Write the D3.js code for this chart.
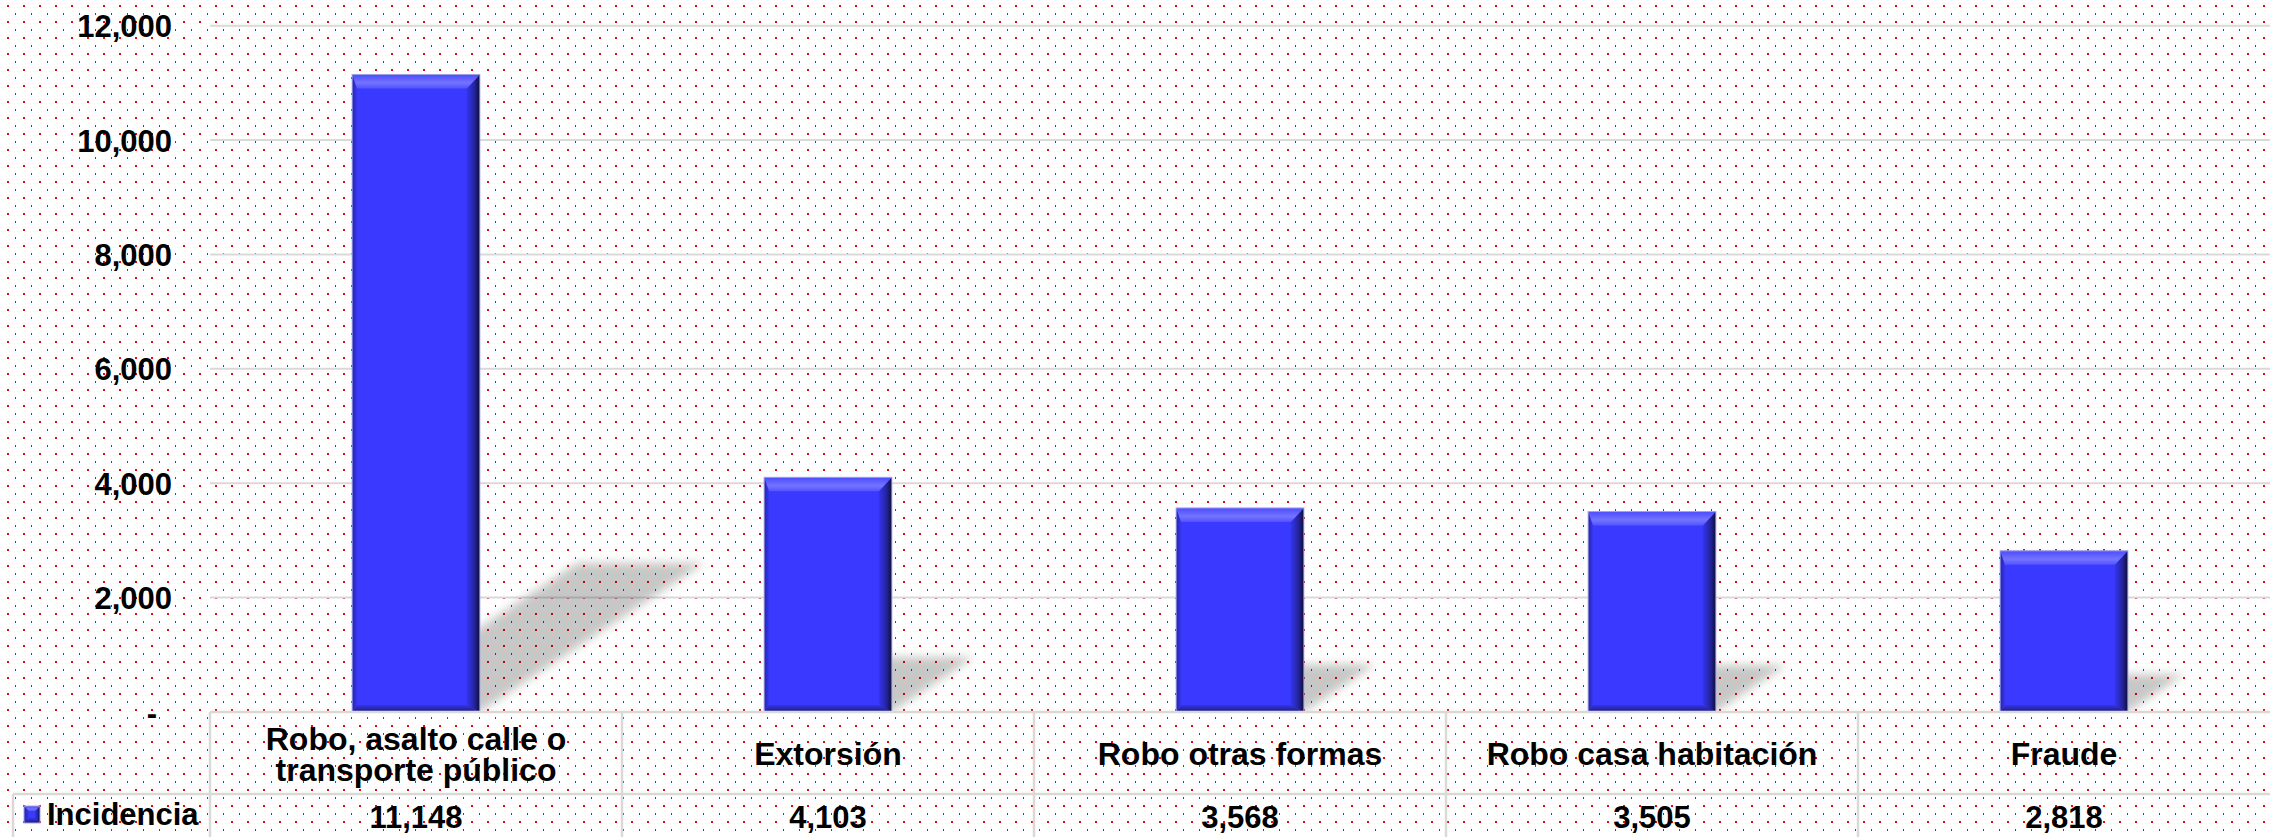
<!DOCTYPE html>
<html>
<head>
<meta charset="utf-8">
<script src="https://cdn.jsdelivr.net/npm/d3@7"></script>
<style>
  html, body { margin: 0; padding: 0; background: #ffffff; }
  svg { display: block; }
  text { font-family: "Liberation Sans", Arial, sans-serif; font-weight: bold; fill: #000; }
</style>
</head>
<body>
<svg id="chart" width="2270" height="837"></svg>
<script>
// ---- data ----
const categories = ["Robo, asalto calle o transporte público", "Extorsión", "Robo otras formas", "Robo casa habitación", "Fraude"];
const categoryLines = [["Robo, asalto calle o", "transporte público"], ["Extorsión"], ["Robo otras formas"], ["Robo casa habitación"], ["Fraude"]];
const values = [11148, 4103, 3568, 3505, 2818];
const valueLabels = ["11,148", "4,103", "3,568", "3,505", "2,818"];
const yTicks = [0, 2000, 4000, 6000, 8000, 10000, 12000];
const seriesName = "Incidencia";

// ---- layout ----
const W = 2270, H = 837;
const plotLeft = 210, plotRight = 2270, plotTop = 25.7, plotBottom = 712;
const rowSplit = 794;
const lineColor = "#d9d9d9";

const svg = d3.select("#chart");
const defs = svg.append("defs");

// dotted background pattern
const pat = defs.append("pattern").attr("id", "dots").attr("patternUnits", "userSpaceOnUse")
  .attr("width", 16).attr("height", 16);
pat.append("rect").attr("width", 16).attr("height", 16).attr("fill", "#ffffff");
pat.append("rect").attr("x", 7).attr("y", 5).attr("width", 2).attr("height", 2).attr("fill", "#ff0000");
pat.append("rect").attr("x", 15).attr("y", 13).attr("width", 2).attr("height", 2).attr("fill", "#ff0000");
svg.append("rect").attr("width", W).attr("height", H).attr("fill", "url(#dots)");

// gradients for bevel
function lin(id, x2, y2, stops) {
  const g = defs.append("linearGradient").attr("id", id)
    .attr("x1", 0).attr("y1", 0).attr("x2", x2).attr("y2", y2);
  stops.forEach(s => g.append("stop").attr("offset", s[0]).attr("stop-color", s[1]));
}
lin("gTop", 0, 1, [[0, "#4b4bff"], [0.6, "#7474ff"], [1, "#5252ff"]]);
lin("gRight", 1, 0, [[0, "#3535ee"], [0.6, "#232399"], [1, "#0e0e38"]]);
lin("gBottom", 0, 1, [[0, "#3434e6"], [1, "#1c1c7c"]]);
lin("gLeft", 1, 0, [[0, "#2424a8"], [1, "#3838f4"]]);

// shadow blur
const f = defs.append("filter").attr("id", "blur").attr("x", "-20%").attr("y", "-20%")
  .attr("width", "140%").attr("height", "140%");
f.append("feGaussianBlur").attr("stdDeviation", 5);
defs.append("clipPath").attr("id", "plotClip").append("rect")
  .attr("x", plotLeft).attr("y", 0).attr("width", plotRight - plotLeft).attr("height", plotBottom);

// ---- scales ----
const x = d3.scaleBand().domain(categories).range([plotLeft, plotRight])
  .paddingInner(0.69).paddingOuter(0.345);
const y = d3.scaleLinear().domain([0, 12000]).range([plotBottom, plotTop]);

// ---- gridlines ----
svg.append("g").selectAll("line").data(yTicks.filter(d => d > 0)).join("line")
  .attr("x1", plotLeft).attr("x2", plotRight)
  .attr("y1", d => y(d)).attr("y2", d => y(d))
  .attr("stroke", lineColor).attr("stroke-width", 2);

// ---- y axis labels ----
const yAxis = d3.axisLeft(y).tickValues(yTicks)
  .tickFormat(d => d === 0 ? "-" : d3.format(",")(d)).tickSize(0).tickPadding(0);
const yg = svg.append("g").attr("transform", "translate(172,0)").call(yAxis);
yg.select(".domain").remove();
yg.selectAll("text").attr("font-size", 31).attr("font-family", null)
  .attr("dy", null).attr("y", 11)
  .attr("x", d => d === 0 ? -15 : 0);

// ---- shadows ----
const sh = svg.append("g").attr("clip-path", "url(#plotClip)");
sh.selectAll("polygon").data(values).join("polygon")
  .attr("points", (v, i) => {
    const x0 = x(categories[i]), x1 = x0 + x.bandwidth();
    const h = y(0) - y(v), dx = 0.353 * h, dy = 0.234 * h, b = y(0);
    return [[x0, b], [x1, b], [x1 + dx, b - dy], [x0 + dx, b - dy]].map(p => p.join(",")).join(" ");
  })
  .attr("fill", "#000").attr("fill-opacity", 0.22).attr("filter", "url(#blur)");

// ---- bevelled box ----
function bevelBox(g, x0, x1, yt, yb, t, r, bo, l) {
  g.append("rect").attr("x", x0).attr("y", yt).attr("width", x1 - x0).attr("height", yb - yt).attr("fill", "#3939ff");
  const poly = (pts, fill) => g.append("polygon").attr("points", pts.map(p => p.join(",")).join(" ")).attr("fill", fill);
  poly([[x0, yt], [x0 + l, yt + t], [x0 + l, yb - bo], [x0, yb]], "url(#gLeft)");
  poly([[x0, yb], [x1, yb], [x1 - r, yb - bo], [x0 + l, yb - bo]], "url(#gBottom)");
  poly([[x1, yt], [x1, yb], [x1 - r, yb - bo], [x1 - r, yt + t]], "url(#gRight)");
  poly([[x0, yt], [x1, yt], [x1 - r, yt + t], [x0 + l, yt + t]], "url(#gTop)");
  g.append("rect").attr("x", x0).attr("y", yt).attr("width", x1 - x0).attr("height", yb - yt)
    .attr("fill", "none").attr("stroke", "#a4a4e4").attr("stroke-width", 1);
}

// ---- bars ----
const bars = svg.append("g");
values.forEach((v, i) => {
  const x0 = x(categories[i]), x1 = x0 + x.bandwidth();
  bevelBox(bars.append("g"), x0, x1, y(v), y(0), 14, 13, 7, 5);
});

// ---- data table ----
const step = x.step(), half = step * x.paddingInner() / 2;
const colEdges = categories.map(c => x(c) - half);
const tbl = svg.append("g").attr("stroke", lineColor).attr("stroke-width", 2.5);
tbl.append("line").attr("x1", plotLeft).attr("x2", plotRight).attr("y1", plotBottom).attr("y2", plotBottom);
tbl.append("line").attr("x1", 13).attr("x2", plotRight).attr("y1", rowSplit).attr("y2", rowSplit);
tbl.append("line").attr("x1", 13).attr("x2", 13).attr("y1", rowSplit).attr("y2", H);
tbl.selectAll("line.col").data(colEdges).join("line").attr("class", "col")
  .attr("x1", d => d).attr("x2", d => d).attr("y1", plotBottom).attr("y2", H);

// category labels
const catG = svg.append("g");
categories.forEach((c, i) => {
  const cx = x(c) + x.bandwidth() / 2;
  const lines = categoryLines[i];
  const t = catG.append("text").attr("text-anchor", "middle").attr("font-size", 32);
  lines.forEach((ln, k) => {
    const base = lines.length === 1 ? 765 : 750 + k * 31;
    t.append("tspan").attr("x", cx).attr("y", base).text(ln);
  });
});

// value labels
svg.append("g").selectAll("text").data(valueLabels).join("text")
  .attr("x", (d, i) => x(categories[i]) + x.bandwidth() / 2)
  .attr("y", 828).attr("text-anchor", "middle").attr("font-size", 31).text(d => d);

// legend key + name
bevelBox(svg.append("g"), 24, 40, 806, 823, 5, 5, 5, 5);
svg.append("text").attr("x", 47).attr("y", 825).attr("font-size", 31).text(seriesName);
</script>
</body>
</html>
